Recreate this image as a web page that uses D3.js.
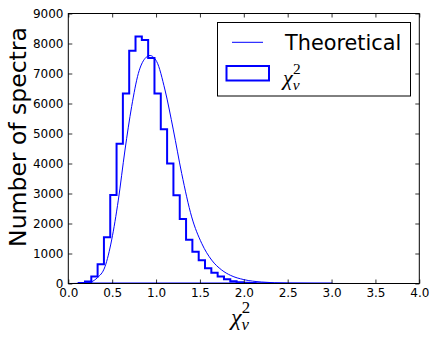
<!DOCTYPE html>
<html>
<head>
<meta charset="utf-8">
<script src="https://cdn.jsdelivr.net/npm/d3@7"></script>
<style>
  html, body { margin: 0; padding: 0; background: #fff; }
  svg { display: block; }
</style>
</head>
<body>
<svg id="chart" width="436" height="337"></svg>
<script>
// ---- data ----
const binEdges = [0.118,0.190,0.262,0.334,0.406,0.478,0.550,0.622,0.694,0.766,0.838,0.910,0.982,1.054,1.126,1.198,1.270,1.342,1.414,1.486,1.558,1.630,1.702,1.774,1.846,1.918,1.990,2.062,2.134,2.206,2.278,2.350,2.422,2.494,2.566,2.638,2.710,2.782,2.854,2.926,2.998];
const binCounts = [20,70,230,645,1540,2950,4660,6330,7760,8230,8120,7520,6330,5140,4000,2940,2150,1460,1060,775,505,360,230,140,75,45,25,15,10,6,4,3,2,2,1,1,1,0,0,1];
const theoX = [0.0,0.15,0.2,0.267,0.33,0.418,0.494,0.57,0.646,0.722,0.798,0.874,0.931,1.007,1.102,1.197,1.292,1.406,1.52,1.634,1.748,1.85,2.0,2.2,2.5,2.8,3.2,4.0];
const theoY = [0,5,15,60,190,560,1450,2780,4450,5900,7000,7500,7600,7400,6450,5120,3670,2220,1340,780,450,270,130,50,12,3,0.5,0];
const xTicks = [0,0.5,1,1.5,2,2.5,3,3.5,4];
const yTicks = [0,1000,2000,3000,4000,5000,6000,7000,8000,9000];
const yLabel = "Number of spectra";
const legendTheo = "Theoretical";

// ---- layout ----
const L = 68.3, R = 419.3, T = 13.5, B = 283.5;
const svg = d3.select("#chart");
const x = d3.scaleLinear().domain([0, 4]).range([L, R]);
const y = d3.scaleLinear().domain([0, 9000]).range([B, T]);
const blue = "#0000ff";
const tickFont = "DejaVu Sans, sans-serif";

// clip
svg.append("clipPath").attr("id", "clip")
  .append("rect").attr("x", L).attr("y", T).attr("width", R - L).attr("height", B - T);

// histogram step path
const pts = [[binEdges[0], 0]];
binCounts.forEach((c, i) => { pts.push([binEdges[i], c]); pts.push([binEdges[i + 1], c]); });
pts.push([binEdges[binEdges.length - 1], 0]);
pts.push([binEdges[0], 0]);
const line = d3.line().x(d => x(d[0])).y(d => y(d[1]));
svg.append("path").attr("clip-path", "url(#clip)")
  .attr("d", line(pts)).attr("fill", "none").attr("stroke", blue)
  .attr("stroke-width", 2).attr("stroke-linejoin", "miter");

// theoretical curve
const theo = theoX.map((v, i) => [v, theoY[i]]);
svg.append("path").attr("clip-path", "url(#clip)")
  .attr("d", d3.line().x(d => x(d[0])).y(d => y(d[1])).curve(d3.curveMonotoneX)(theo))
  .attr("fill", "none").attr("stroke", blue).attr("stroke-width", 1);

// axes
function styleAxis(g) {
  g.select(".domain").remove();
  g.selectAll(".tick line").attr("stroke", "#000").attr("stroke-width", 0.8);
  g.selectAll("text").attr("font-family", tickFont).attr("font-size", 12).attr("fill", "#000");
}
const fmtX = d3.format(".1f");
svg.append("g").attr("transform", `translate(0,${B})`)
  .call(d3.axisBottom(x).tickValues(xTicks).tickFormat(fmtX).tickSizeInner(-4).tickSizeOuter(0).tickPadding(6))
  .call(styleAxis)
  .selectAll("text").attr("dy", "0.71em").attr("y", 4.5);
svg.append("g").attr("transform", `translate(0,${T})`)
  .call(d3.axisTop(x).tickValues(xTicks).tickFormat("").tickSizeInner(-4).tickSizeOuter(0))
  .call(styleAxis);
svg.append("g").attr("transform", `translate(${L},0)`)
  .call(d3.axisLeft(y).tickValues(yTicks).tickFormat(d3.format("d")).tickSizeInner(-4).tickSizeOuter(0))
  .call(styleAxis)
  .selectAll("text").attr("x", -4.8);
svg.append("g").attr("transform", `translate(${R},0)`)
  .call(d3.axisRight(y).tickValues(yTicks).tickFormat("").tickSizeInner(-4).tickSizeOuter(0))
  .call(styleAxis);

// frame
svg.append("rect").attr("x", L).attr("y", T).attr("width", R - L).attr("height", B - T)
  .attr("fill", "none").attr("stroke", "#000").attr("stroke-width", 1);

// y label
svg.append("text").attr("transform", `translate(26,137) rotate(-90)`)
  .attr("text-anchor", "middle").attr("font-family", tickFont).attr("font-size", 23.5)
  .attr("fill", "#000").text(yLabel);

// x label chi_nu^2
function chiLabel(parent, cx, by, size) {
  const t = parent.append("text").attr("x", cx).attr("y", by)
    .attr("font-family", "Liberation Serif, DejaVu Serif, serif").attr("font-size", size)
    .attr("fill", "#000");
  t.append("tspan").attr("font-style", "italic").text("χ");
  t.append("tspan").attr("font-style", "italic").attr("font-size", size * 0.7).attr("dy", size * 0.22).text("ν");
  t.append("tspan").attr("font-size", size * 0.7).attr("dx", -size * 0.3).attr("dy", -size * 0.72).text("2");
  return t;
}
chiLabel(svg, 231, 325, 24);

// legend
const lg = svg.append("g");
lg.append("rect").attr("x", 217.5).attr("y", 22.5).attr("width", 193).attr("height", 73.5)
  .attr("fill", "#fff").attr("stroke", "#000").attr("stroke-width", 1);
lg.append("line").attr("x1", 232).attr("x2", 263).attr("y1", 42.3).attr("y2", 42.3)
  .attr("stroke", blue).attr("stroke-width", 1);
lg.append("text").attr("x", 285).attr("y", 49.5).attr("font-family", tickFont)
  .attr("font-size", 20.8).attr("fill", "#000").text(legendTheo);
lg.append("rect").attr("x", 226.5).attr("y", 66).attr("width", 42.5).attr("height", 14.5)
  .attr("fill", "none").attr("stroke", blue).attr("stroke-width", 2);
chiLabel(lg, 283, 85, 22);
</script>
</body>
</html>
